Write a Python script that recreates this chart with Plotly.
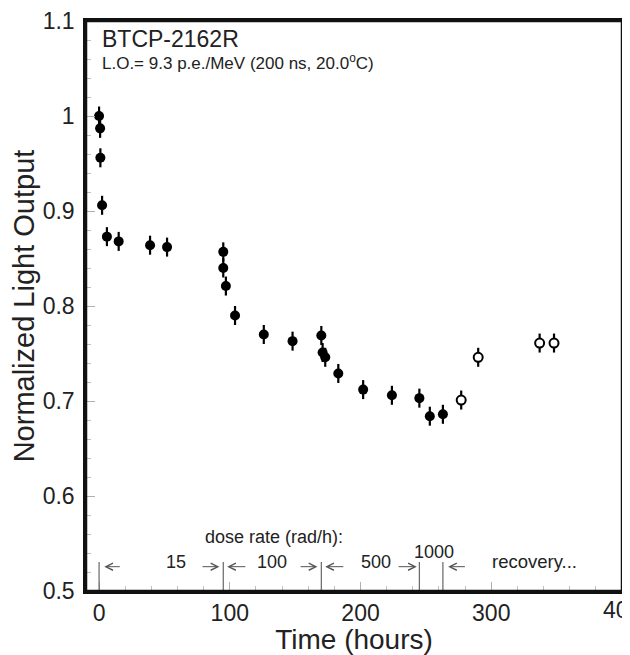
import plotly.graph_objects as go

# ---- data ----
time_irr = [0, 0.8, 1, 2.3, 6, 15, 39, 52, 95, 95, 97, 104, 126, 148, 170, 171, 173, 183, 202, 224, 245, 253, 263]
lo_irr = [1.000, 0.987, 0.956, 0.906, 0.873, 0.868, 0.864, 0.862, 0.857, 0.840, 0.821, 0.790,
          0.770, 0.763, 0.769, 0.751, 0.746, 0.729, 0.712, 0.706, 0.703, 0.684, 0.686]
err_irr = [0.01] * len(time_irr)

time_rec = [277, 290, 337, 348]
lo_rec = [0.701, 0.746, 0.761, 0.761]
err_rec = [0.01] * len(time_rec)

dose_bounds = [0, 95, 170, 245, 263]
dose_labels = ["15", "100", "500"]
dose_label_x = [59, 132, 212]
arrow_tails = [17, 78, 113, 153, 188, 228, 281]
arrow_heads = [4, 92, 98, 167, 173, 243, 267]

x_ticks = [0, 100, 200, 300]
edge_tick = 400
y_ticks = [0.5, 0.6, 0.7, 0.8, 0.9, 1.0, 1.1]
y_tick_text = ["0.5", "0.6", "0.7", "0.8", "0.9", "1", "1.1"]

FONT = "Liberation Sans, Arial, Helvetica, sans-serif"
TXT = "#222222"

fig = go.Figure()
fig.add_trace(go.Scatter(
    x=time_irr, y=lo_irr, mode="markers",
    marker=dict(symbol="circle", size=10, color="black", line=dict(width=0)),
    error_y=dict(type="data", array=err_irr, thickness=2.2, width=0, color="black"),
    showlegend=False))
fig.add_trace(go.Scatter(
    x=time_rec, y=lo_rec, mode="markers",
    marker=dict(symbol="circle", size=9, color="white", line=dict(width=2, color="black")),
    error_y=dict(type="data", array=err_rec, thickness=2.2, width=0, color="black"),
    showlegend=False))

shapes = []
for b in dose_bounds:
    shapes.append(dict(type="line", xref="x", yref="y", x0=b, x1=b, y0=0.5, y1=0.5305,
                       line=dict(color="#666666", width=1.2)))
shapes.append(dict(type="rect", xref="paper", yref="paper", x0=0, x1=1, y0=0, y1=1,
                   line=dict(color="#111111", width=2.5), fillcolor="rgba(0,0,0,0)", layer="above"))

ann = []
for lab, lx in zip(dose_labels, dose_label_x):
    ann.append(dict(x=lx, y=0.531, xref="x", yref="y", text=lab, showarrow=False,
                    font=dict(size=18, color=TXT, family=FONT)))
ann.append(dict(x=256.5, y=0.5415, xref="x", yref="y", text="1000", showarrow=False,
                font=dict(size=18, color=TXT, family=FONT)))
ann.append(dict(x=299, y=0.531, xref="x", yref="y", text="recovery...", showarrow=False,
                xanchor="left", font=dict(size=18.5, color=TXT, family=FONT)))
ann.append(dict(x=134, y=0.557, xref="x", yref="y", text="dose rate (rad/h):", showarrow=False,
                font=dict(size=18, color=TXT, family=FONT)))
for t, h in zip(arrow_tails, arrow_heads):
    ann.append(dict(x=h, y=0.5256, ax=t, ay=0.5256, xref="x", yref="y", axref="x", ayref="y",
                    text="", showarrow=True, arrowhead=5, arrowsize=1.4, arrowwidth=1,
                    arrowcolor="#555555", standoff=0, startstandoff=0))
ann.append(dict(x=0.5, y=1.1 - 0.019, xref="x", yref="y", text="BTCP-2162R", showarrow=False,
                xanchor="left", yanchor="middle", font=dict(size=23, color=TXT, family=FONT)))
ann.append(dict(x=0.5, y=1.1 - 0.043, xref="x", yref="y",
                text="L.O.= 9.3 p.e./MeV (200 ns, 20.0<sup>o</sup>C)", showarrow=False,
                xanchor="left", yanchor="middle", font=dict(size=17, color=TXT, family=FONT)))
ann.append(dict(x=edge_tick, y=0, xref="x", yref="paper", yanchor="top", yshift=-4,
                text=str(edge_tick), showarrow=False, font=dict(size=23, color=TXT, family=FONT)))

# the page adds an 8px body margin, so the figure is 8px smaller and margins shifted
fig.update_layout(
    width=622, height=647,
    margin=dict(l=78, r=8, t=13, b=64, autoexpand=False),
    paper_bgcolor="white", plot_bgcolor="white",
    font=dict(family=FONT, color=TXT),
    shapes=shapes, annotations=ann,
    xaxis=dict(range=[-10, 400], tickvals=x_ticks, ticktext=[str(v) for v in x_ticks],
               ticks="inside", ticklen=9, tickwidth=1, tickcolor="#b0b0b0",
               minor=dict(dtick=20, ticks="inside", ticklen=5, tickcolor="#c0c0c0", showgrid=False),
               showgrid=False, zeroline=False, showline=True, mirror=True,
               linecolor="#111111", linewidth=2.5, automargin=False,
               tickfont=dict(size=23, color=TXT), ticklabelstandoff=0,
               title=dict(text="Time (hours)", font=dict(size=28, color=TXT), standoff=0)),
    yaxis=dict(range=[0.5, 1.1], tickvals=y_ticks, ticktext=y_tick_text,
               ticks="inside", ticklen=9, tickwidth=1, tickcolor="#b0b0b0",
               minor=dict(dtick=0.02, tick0=0.5, ticks="inside", ticklen=5, tickcolor="#c0c0c0", showgrid=False),
               showgrid=False, zeroline=False, showline=True, mirror=True,
               linecolor="#111111", linewidth=2.5, automargin=False,
               tickfont=dict(size=23, color=TXT), ticklabelstandoff=4,
               title=dict(text="Normalized Light Output", font=dict(size=29, color=TXT), standoff=11)),
)

fig.write_html("out.html")
